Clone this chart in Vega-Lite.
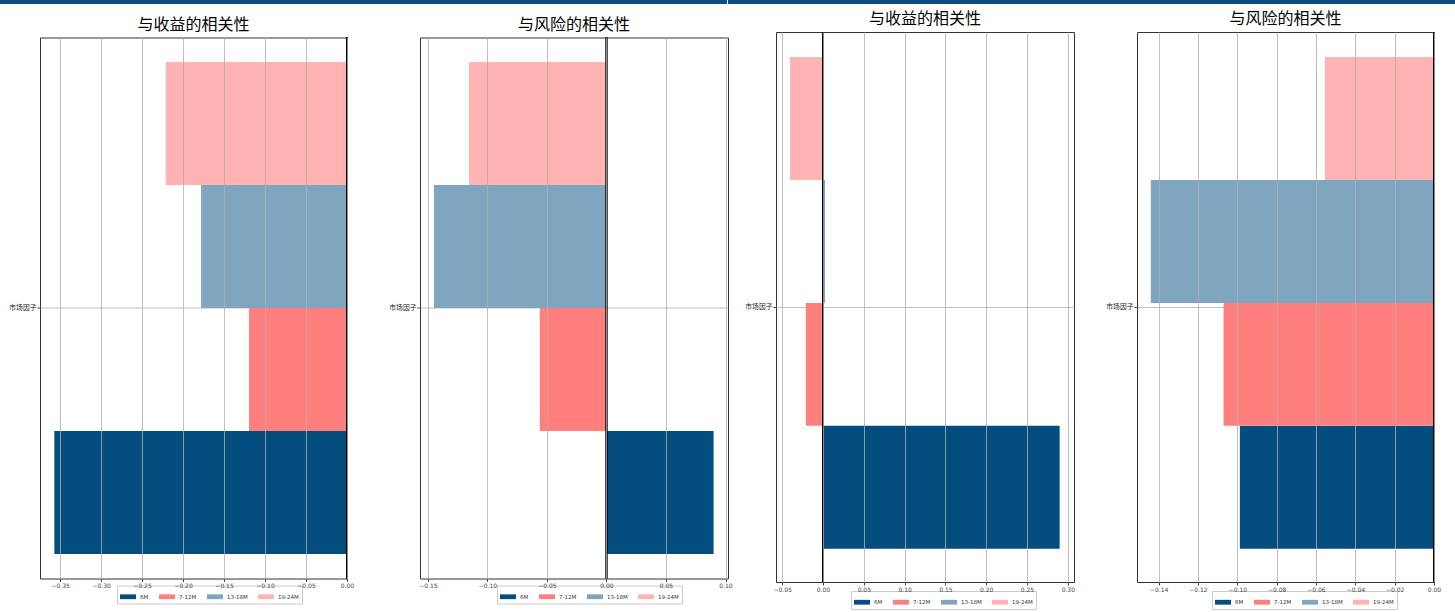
{
  "$schema": "https://vega.github.io/schema/vega-lite/v6.json",
  "padding": {"left": 0, "top": 0, "right": 0, "bottom": 2},
  "background": "white",
  "datasets": {
    "stripe": [
      {"part": "left"},
      {"part": "right"}
    ],
    "ret_a": [
      {"factor": "市场因子", "period": "6M", "value": -0.357},
      {"factor": "市场因子", "period": "7-12M", "value": -0.1195},
      {"factor": "市场因子", "period": "13-18M", "value": -0.178},
      {"factor": "市场因子", "period": "19-24M", "value": -0.221}
    ],
    "risk_a": [
      {"factor": "市场因子", "period": "6M", "value": 0.090},
      {"factor": "市场因子", "period": "7-12M", "value": -0.056},
      {"factor": "市场因子", "period": "13-18M", "value": -0.145},
      {"factor": "市场因子", "period": "19-24M", "value": -0.1155}
    ],
    "ret_b": [
      {"factor": "市场因子", "period": "6M", "value": 0.290},
      {"factor": "市场因子", "period": "7-12M", "value": -0.021},
      {"factor": "市场因子", "period": "13-18M", "value": 0.0025},
      {"factor": "市场因子", "period": "19-24M", "value": -0.0404}
    ],
    "risk_b": [
      {"factor": "市场因子", "period": "6M", "value": -0.0987},
      {"factor": "市场因子", "period": "7-12M", "value": -0.107},
      {"factor": "市场因子", "period": "13-18M", "value": -0.144},
      {"factor": "市场因子", "period": "19-24M", "value": -0.0555}
    ]
  },
  "vconcat": [
    {
      "width": 1415, "height": 4,
      "data": {"name": "stripe"},
      "view": {"stroke": null},
      "mark": {"type": "rect", "color": "#0C4E84"},
      "encoding": {
        "x": {"field": "part", "type": "nominal", "axis": null, "scale": {"range": [-40, 1415], "paddingInner": 0.0014, "paddingOuter": 0}}
      }
    },
    {
      "hconcat": [
        {
          "hconcat": [
            {
              "title": "与收益的相关性",
              "width": 307, "height": 541,
              "data": {"name": "ret_a"},
              "layer": [
                {
                  "mark": {"type": "bar"},
                  "encoding": {
                    "y": {"field": "factor", "type": "nominal", "title": null, "scale": {"paddingInner": 0, "paddingOuter": 0.05}, "axis": {"grid": true, "bandPosition": 0.5, "labelFont": "Noto Sans CJK SC", "labelFontSize": 6.8, "labelColor": "#222", "minExtent": 39}},
                    "yOffset": {"field": "period", "type": "nominal", "sort": ["19-24M", "13-18M", "7-12M", "6M"], "scale": {"paddingInner": 0, "paddingOuter": 0}},
                    "x": {"field": "value", "type": "quantitative", "title": null, "scale": {"domain": [-0.3745, 0], "nice": false, "zero": false}, "axis": {"values": [-0.35, -0.3, -0.25, -0.2, -0.15, -0.1, -0.05, 0], "format": ".2f", "grid": true, "labelOverlap": false, "labelFlush": false, "zindex": 1}},
                    "x2": {"datum": 0},
                    "color": {"field": "period", "type": "nominal", "title": null, "scale": {"domain": ["6M", "7-12M", "13-18M", "19-24M"], "range": ["#034E7E", "#FF7F7F", "#7FA6BE", "#FFB3B3"]}, "legend": {"orient": "none", "legendX": 77, "legendY": 548}}
                  }
                },
                {"mark": {"type": "rule", "color": "#000", "strokeWidth": 1.5}, "encoding": {"x": {"datum": 0}}}
              ]
            },
            {
              "title": "与风险的相关性",
              "width": 308, "height": 541,
              "data": {"name": "risk_a"},
              "layer": [
                {
                  "mark": {"type": "bar"},
                  "encoding": {
                    "y": {"field": "factor", "type": "nominal", "title": null, "scale": {"paddingInner": 0, "paddingOuter": 0.05}, "axis": {"grid": true, "bandPosition": 0.5, "labelFont": "Noto Sans CJK SC", "labelFontSize": 6.8, "labelColor": "#222"}},
                    "yOffset": {"field": "period", "type": "nominal", "sort": ["19-24M", "13-18M", "7-12M", "6M"], "scale": {"paddingInner": 0, "paddingOuter": 0}},
                    "x": {"field": "value", "type": "quantitative", "title": null, "scale": {"domain": [-0.1567, 0.1021], "nice": false, "zero": false}, "axis": {"values": [-0.15, -0.1, -0.05, 0, 0.05, 0.1], "format": ".2f", "grid": true, "labelOverlap": false, "labelFlush": false, "zindex": 1}},
                    "x2": {"datum": 0},
                    "color": {"field": "period", "type": "nominal", "title": null, "scale": {"domain": ["6M", "7-12M", "13-18M", "19-24M"], "range": ["#034E7E", "#FF7F7F", "#7FA6BE", "#FFB3B3"]}, "legend": {"orient": "none", "legendX": 77, "legendY": 548}}
                  }
                },
                {"mark": {"type": "rule", "color": "#000", "strokeWidth": 1.5}, "encoding": {"x": {"datum": 0}}}
              ]
            }
          ],
          "spacing": 73,
          "bounds": "flush",
          "resolve": {"scale": {"x": "independent", "y": "independent", "color": "independent"}, "legend": {"color": "independent"}}
        },
        {
          "hconcat": [
            {
              "title": "与收益的相关性",
              "width": 298, "height": 550,
              "data": {"name": "ret_b"},
              "layer": [
                {
                  "mark": {"type": "bar"},
                  "encoding": {
                    "y": {"field": "factor", "type": "nominal", "title": null, "scale": {"paddingInner": 0, "paddingOuter": 0.05}, "axis": {"grid": true, "bandPosition": 0.5, "labelFont": "Noto Sans CJK SC", "labelFontSize": 6.8, "labelColor": "#222"}},
                    "yOffset": {"field": "period", "type": "nominal", "sort": ["19-24M", "13-18M", "7-12M", "6M"], "scale": {"paddingInner": 0, "paddingOuter": 0}},
                    "x": {"field": "value", "type": "quantitative", "title": null, "scale": {"domain": [-0.0576, 0.3076], "nice": false, "zero": false}, "axis": {"values": [-0.05, 0, 0.05, 0.1, 0.15, 0.2, 0.25, 0.3], "format": ".2f", "grid": true, "labelOverlap": false, "labelFlush": false, "zindex": 1}},
                    "x2": {"datum": 0},
                    "color": {"field": "period", "type": "nominal", "title": null, "scale": {"domain": ["6M", "7-12M", "13-18M", "19-24M"], "range": ["#034E7E", "#FF7F7F", "#7FA6BE", "#FFB3B3"]}, "legend": {"orient": "none", "legendX": 75, "legendY": 559}}
                  }
                },
                {"mark": {"type": "rule", "color": "#000", "strokeWidth": 1.5}, "encoding": {"x": {"datum": 0}}}
              ]
            },
            {
              "title": "与风险的相关性",
              "width": 297, "height": 550,
              "data": {"name": "risk_b"},
              "layer": [
                {
                  "mark": {"type": "bar"},
                  "encoding": {
                    "y": {"field": "factor", "type": "nominal", "title": null, "scale": {"paddingInner": 0, "paddingOuter": 0.05}, "axis": {"grid": true, "bandPosition": 0.5, "labelFont": "Noto Sans CJK SC", "labelFontSize": 6.8, "labelColor": "#222"}},
                    "yOffset": {"field": "period", "type": "nominal", "sort": ["19-24M", "13-18M", "7-12M", "6M"], "scale": {"paddingInner": 0, "paddingOuter": 0}},
                    "x": {"field": "value", "type": "quantitative", "title": null, "scale": {"domain": [-0.151, 0], "nice": false, "zero": false}, "axis": {"values": [-0.14, -0.12, -0.1, -0.08, -0.06, -0.04, -0.02, 0], "format": ".2f", "grid": true, "labelOverlap": false, "labelFlush": false, "zindex": 1}},
                    "x2": {"datum": 0},
                    "color": {"field": "period", "type": "nominal", "title": null, "scale": {"domain": ["6M", "7-12M", "13-18M", "19-24M"], "range": ["#034E7E", "#FF7F7F", "#7FA6BE", "#FFB3B3"]}, "legend": {"orient": "none", "legendX": 75, "legendY": 559}}
                  }
                },
                {"mark": {"type": "rule", "color": "#000", "strokeWidth": 1.5}, "encoding": {"x": {"datum": 0}}}
              ]
            }
          ],
          "spacing": 63,
          "bounds": "flush",
          "resolve": {"scale": {"x": "independent", "y": "independent", "color": "independent"}, "legend": {"color": "independent"}}
        }
      ],
      "spacing": 11,
      "bounds": "full",
      "center": true,
      "resolve": {"scale": {"x": "independent", "y": "independent", "color": "independent"}, "legend": {"color": "independent"}}
    }
  ],
  "spacing": 6,
  "bounds": "full",
  "resolve": {"scale": {"x": "independent", "y": "independent", "color": "independent"}, "legend": {"color": "independent"}},
  "config": {
    "view": {"stroke": "#333", "strokeWidth": 1},
    "font": "Noto Sans CJK SC",
    "title": {"fontSize": 16, "fontWeight": "normal", "color": "#000", "offset": 4, "font": "Noto Sans CJK SC"},
    "axis": {"labelFont": "DejaVu Sans", "labelFontSize": 6, "labelColor": "#444", "tickColor": "#444", "tickSize": 3, "labelPadding": 1, "gridColor": "#b0b0b0", "gridWidth": 0.8, "domain": false},
    "legend": {
      "direction": "horizontal",
      "symbolType": "M-1,-0.3H1V0.3H-1Z", "symbolSize": 256, "symbolStrokeWidth": 0,
      "labelFont": "DejaVu Sans", "labelFontSize": 5.5, "labelColor": "#333",
      "strokeColor": "#cccccc", "padding": 3, "columnPadding": 10
    }
  }
}
